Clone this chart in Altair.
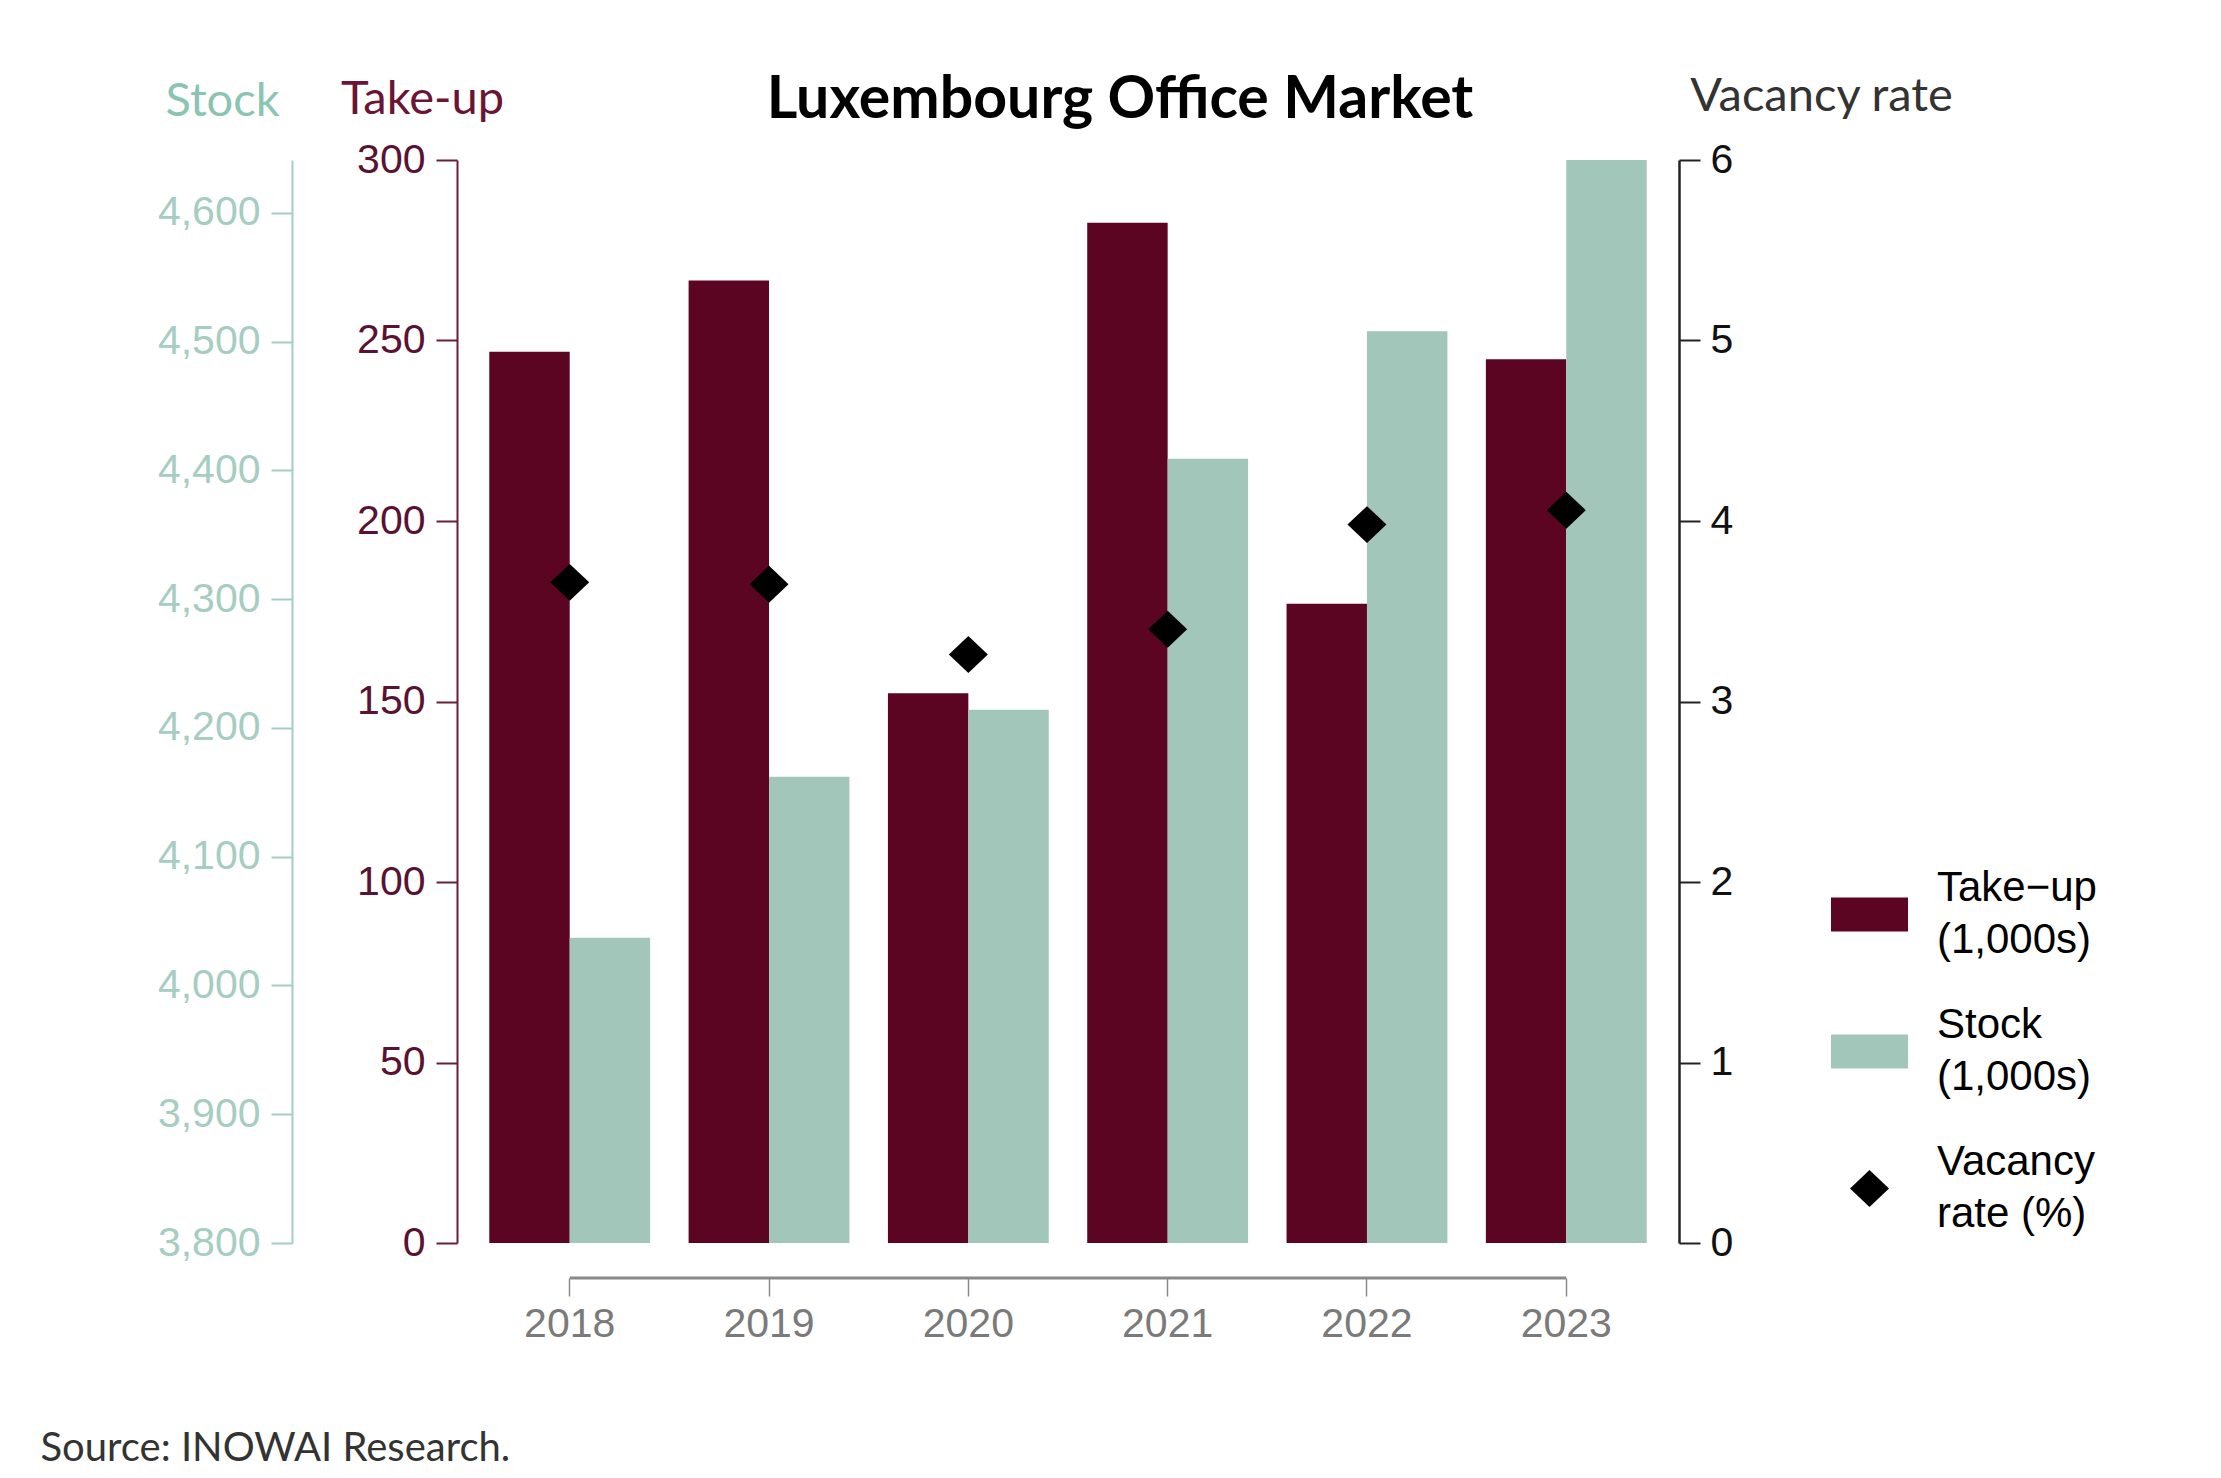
import altair as alt
import pandas as pd

# ---- data ----
years = ["2018", "2019", "2020", "2021", "2022", "2023"]
take_up = [246.9, 266.6, 152.3, 282.6, 177.1, 244.8]        # 1,000s
stock = [4037, 4162, 4214, 4409, 4508, 4641]                # 1,000s
vacancy = [3.66, 3.65, 3.26, 3.40, 3.98, 4.06]              # %

series = ["Take-up", "Stock", "Vacancy"]
colors = ["#5C0523", "#A2C6B9", "#000000"]
takeup_ticks = [0, 50, 100, 150, 200, 250, 300]
stock_ticks = [3800, 3900, 4000, 4100, 4200, 4300, 4400, 4500, 4600]
vacancy_ticks = [0, 1, 2, 3, 4, 5, 6]

df_take = pd.DataFrame({"year": years, "value": take_up, "series": "Take-up"})
df_stock = pd.DataFrame({"year": years, "value": stock, "series": "Stock"})
df_vac = pd.DataFrame({"year": years, "value": vacancy, "series": "Vacancy"})
df_xline = pd.DataFrame({"start": [years[0]], "end": [years[-1]]})

W, H = 1222, 1083
LABEL_FONT = "Liberation Sans"
TITLE_FONT = "Lato"

rect_path = "M-1,-0.4416H1V0.4416H-1Z"
diamond_path = "M-0.5065,0L0,-0.48L0.5065,0L0,0.48Z"

x_scale = alt.Scale(domain=years, paddingInner=0.193, paddingOuter=0.162)
x_axis = alt.Axis(
    title="Source: INOWAI Research.", titleX=-417, titleY=182, titleAlign="left",
    titleAnchor="start", titleAngle=0, titleBaseline="alphabetic", titleFont=TITLE_FONT,
    titleFontSize=40, titleFontWeight="normal", titleColor="#333333",
    domain=False, ticks=True, tickSize=18, tickColor="#8A8A8A", tickWidth=1.5,
    labelAngle=0, labelFont=LABEL_FONT, labelFontSize=41, labelColor="#7A7A7A",
    labelPadding=8, offset=35, grid=False,
)
x_enc = alt.X("year:N", scale=x_scale, axis=x_axis)

legend = alt.Legend(
    orient="none", legendX=1374, legendY=716, title=None, padding=0,
    labelExpr="datum.label == 'Take-up' ? ['Take\u2212up', '(1,000s)'] : "
              "datum.label == 'Stock' ? ['Stock', '(1,000s)'] : ['Vacancy', 'rate (%)']",
    labelFont=LABEL_FONT, labelFontSize=42, labelColor="#000000", labelLimit=500,
    labelOffset=29, rowPadding=42, symbolSize=5929, symbolStrokeWidth=0,
    symbolOpacity=1, labelBaseline="line-bottom",
)
color_enc = alt.Color("series:N", scale=alt.Scale(domain=series, range=colors), legend=legend)
shape_enc = alt.Shape("series:N", scale=alt.Scale(domain=series, range=[rect_path, rect_path, diamond_path]), legend=legend)
xoff = alt.XOffset("series:N", scale=alt.Scale(domain=["Take-up", "Stock"]))

take_bars = alt.Chart(df_take).mark_bar().encode(
    x=x_enc,
    xOffset=xoff,
    y=alt.Y("value:Q", scale=alt.Scale(domain=[0, 300], nice=False, zero=True),
            axis=alt.Axis(orient="left", values=takeup_ticks, title="Take-up", titleAngle=0,
                          titleX=-35, titleY=-47, titleAlign="center", titleBaseline="alphabetic",
                          titleFont=TITLE_FONT, titleFontSize=47, titleFontWeight="normal",
                          titleColor="#6A1436", labelFont=LABEL_FONT, labelFontSize=41,
                          labelColor="#5A1232", labelPadding=11, tickSize=21, tickColor="#6B1D3D",
                          tickWidth=2, domainColor="#6B1D3D", domainWidth=2, grid=False)),
    color=color_enc,
)

stock_bars = alt.Chart(df_stock).mark_bar(clip=True).encode(
    x=x_enc,
    xOffset=xoff,
    y=alt.Y("value:Q", scale=alt.Scale(domain=[3800, 4641], nice=False, zero=False),
            axis=alt.Axis(orient="left", offset=165, values=stock_ticks, format=",d",
                          title="Stock", titleAngle=0, titleX=-70, titleY=-45, titleAlign="center",
                          titleBaseline="alphabetic", titleFont=TITLE_FONT, titleFontSize=47,
                          titleFontWeight="normal", titleColor="#8CC4B4", labelFont=LABEL_FONT,
                          labelFontSize=41, labelColor="#A6CDC2", labelPadding=11, tickSize=21,
                          tickColor="#A6CDC2", tickWidth=2, domainColor="#A6CDC2", domainWidth=2,
                          grid=False)),
    y2=alt.datum(3800),
    color=color_enc,
)

vac_points = alt.Chart(df_vac).mark_point(filled=True, opacity=1, size=5929, strokeWidth=0).encode(
    x=x_enc,
    y=alt.Y("value:Q", scale=alt.Scale(domain=[0, 6], nice=False),
            axis=alt.Axis(orient="right", values=vacancy_ticks, title="Vacancy rate", titleAngle=0,
                          titleX=142, titleY=-50, titleAlign="center", titleBaseline="alphabetic",
                          titleFont=TITLE_FONT, titleFontSize=47, titleFontWeight="normal",
                          titleColor="#333333", labelFont=LABEL_FONT, labelFontSize=41,
                          labelColor="#111111", labelPadding=10, tickSize=21, tickColor="#222222",
                          tickWidth=2, domainColor="#222222", domainWidth=2.5, grid=False)),
    color=color_enc,
    shape=shape_enc,
)

x_line = alt.Chart(df_xline).mark_rule(color="#8A8A8A", strokeWidth=3).encode(
    x=alt.X("start:N", scale=x_scale, axis=x_axis),
    x2="end:N",
    y=alt.value(H + 35),
)

chart = alt.layer(take_bars, stock_bars, vac_points, x_line).resolve_scale(
    y="independent"
).properties(
    width=W, height=H,
    autosize=alt.AutoSizeParams(type="none"),
    padding={"left": 449, "top": 152, "right": 534, "bottom": 227},
    title=alt.TitleParams("Luxembourg Office Market", font=TITLE_FONT, fontSize=59,
                          fontWeight="bold", color="#000000", anchor="middle", frame="group",
                          dx=52, offset=-105, baseline="alphabetic"),
    background="white",
).configure(
    view=alt.ViewConfig(stroke=None),
    style={"guide-label": {"lineHeight": 52}},
)

chart.save("out.html", embed_options={"renderer": "svg", "actions": False})
